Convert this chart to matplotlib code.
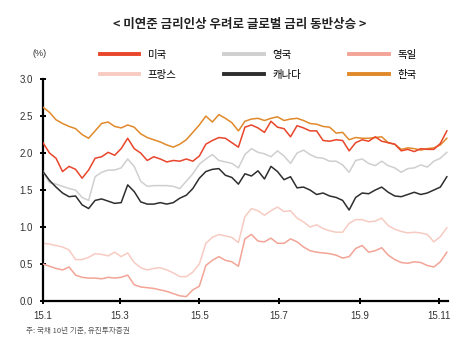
import matplotlib
matplotlib.use("Agg")
import matplotlib.pyplot as plt
import pandas as pd
from matplotlib.lines import Line2D

plt.rcParams['font.family'] = ['Noto Sans CJK KR', 'DejaVu Sans']

dates = pd.date_range('2015-01-01', periods=63, freq='5D')

korea = [2.62, 2.55, 2.45, 2.40, 2.36, 2.33, 2.25, 2.20, 2.30, 2.40, 2.42, 2.36, 2.34, 2.38, 2.35, 2.26,
         2.21, 2.18, 2.15, 2.11, 2.08, 2.12, 2.18, 2.28, 2.38, 2.50, 2.42, 2.52, 2.47, 2.41, 2.30, 2.43,
         2.46, 2.47, 2.44, 2.47, 2.49, 2.44, 2.46, 2.47, 2.44, 2.40, 2.39, 2.36, 2.35, 2.27, 2.28, 2.18,
         2.21, 2.20, 2.20, 2.21, 2.22, 2.14, 2.12, 2.05, 2.07, 2.06, 2.04, 2.06, 2.07, 2.11, 2.20]
usa = [2.14, 2.00, 1.93, 1.75, 1.82, 1.78, 1.66, 1.77, 1.93, 1.95, 2.01, 1.97, 2.06, 2.20, 2.06, 2.00,
       1.90, 1.95, 1.92, 1.88, 1.90, 1.89, 1.92, 1.89, 1.96, 2.12, 2.17, 2.21, 2.20, 2.14, 2.08, 2.35,
       2.38, 2.34, 2.28, 2.43, 2.35, 2.33, 2.22, 2.37, 2.34, 2.30, 2.30, 2.17, 2.16, 2.18, 2.17, 2.03,
       2.14, 2.18, 2.16, 2.22, 2.16, 2.14, 2.12, 2.03, 2.05, 2.02, 2.06, 2.05, 2.05, 2.13, 2.30]
uk = [1.75, 1.60, 1.58, 1.55, 1.52, 1.50, 1.40, 1.36, 1.68, 1.74, 1.77, 1.77, 1.80, 1.92, 1.82, 1.62,
      1.55, 1.56, 1.56, 1.56, 1.55, 1.52, 1.62, 1.72, 1.85, 1.92, 1.98, 1.90, 1.88, 1.86, 1.80, 1.98,
      2.06, 2.01, 1.99, 1.95, 2.03, 1.96, 1.86, 2.00, 2.04, 1.98, 1.94, 1.93, 1.89, 1.89, 1.84, 1.74,
      1.90, 1.92, 1.86, 1.83, 1.89, 1.83, 1.80, 1.74, 1.79, 1.80, 1.84, 1.81, 1.89, 1.93, 2.01]
canada = [1.75, 1.63, 1.54, 1.46, 1.41, 1.42, 1.30, 1.25, 1.36, 1.38, 1.35, 1.32, 1.33, 1.57, 1.48, 1.34,
          1.31, 1.31, 1.33, 1.31, 1.33, 1.39, 1.43, 1.52, 1.66, 1.75, 1.78, 1.79, 1.70, 1.67, 1.58, 1.72,
          1.69, 1.76, 1.65, 1.82, 1.75, 1.64, 1.68, 1.53, 1.54, 1.50, 1.44, 1.46, 1.42, 1.40, 1.36, 1.23,
          1.40, 1.46, 1.45, 1.50, 1.54, 1.47, 1.42, 1.41, 1.44, 1.47, 1.44, 1.46, 1.50, 1.54, 1.68]
france = [0.78, 0.77, 0.75, 0.73, 0.69, 0.56, 0.56, 0.59, 0.64, 0.63, 0.61, 0.66, 0.60, 0.65, 0.52, 0.45,
          0.42, 0.44, 0.45, 0.42, 0.38, 0.33, 0.33, 0.39, 0.50, 0.78, 0.86, 0.90, 0.88, 0.86, 0.79, 1.14,
          1.25, 1.22, 1.16, 1.22, 1.27, 1.21, 1.22, 1.12, 1.07, 1.00, 1.03, 0.98, 0.95, 0.93, 0.93, 1.05,
          1.10, 1.10, 1.07, 1.08, 1.12, 1.02, 0.97, 0.94, 0.92, 0.93, 0.92, 0.90, 0.80, 0.87, 0.99]
germany = [0.50, 0.47, 0.44, 0.42, 0.46, 0.35, 0.32, 0.31, 0.31, 0.30, 0.32, 0.31, 0.32, 0.35, 0.22, 0.19,
           0.18, 0.17, 0.15, 0.13, 0.10, 0.07, 0.06, 0.15, 0.20, 0.48, 0.55, 0.60, 0.55, 0.53, 0.47, 0.84,
           0.90, 0.81, 0.80, 0.85, 0.78, 0.78, 0.84, 0.80, 0.73, 0.68, 0.66, 0.65, 0.64, 0.62, 0.58, 0.60,
           0.71, 0.75, 0.66, 0.68, 0.72, 0.62, 0.56, 0.52, 0.51, 0.53, 0.52, 0.48, 0.46, 0.53, 0.66]

names = ['미국', '영국', '독일', '프랑스', '캐나다', '한국']
colors = ['#e8452a', '#cfcfcf', '#f2a496', '#f7cbc2', '#2e2e2e', '#e0892a']
series = [usa, uk, germany, france, canada, korea]

tick_dates = ['2015-01-01', '2015-03-01', '2015-05-01', '2015-07-01', '2015-09-01', '2015-11-01']
tick_labels = ['15.1', '15.3', '15.5', '15.7', '15.9', '15.11']
y_ticks = [0.0, 0.5, 1.0, 1.5, 2.0, 2.5, 3.0]

fig = plt.figure(figsize=(4.7, 3.5), dpi=100)
ax = fig.add_axes([0.0915, 0.14, 0.862, 0.634])

draw_order = [3, 2, 1, 5, 0, 4]
for z, i in enumerate(draw_order):
    ax.plot(dates, series[i], color=colors[i], lw=1.1, zorder=2 + z)

ax.set_ylim(0, 3.0)
ax.set_xlim(pd.Timestamp('2015-01-01'), pd.Timestamp('2015-11-08'))
ax.set_yticks(y_ticks)
ax.set_yticklabels([f'{v:.1f}' for v in y_ticks], family=['Liberation Sans', 'DejaVu Sans'],
                   fontsize=7, color='#333333')
ax.set_xticks(pd.to_datetime(tick_dates))
ax.set_xticklabels(tick_labels, family=['Liberation Sans', 'DejaVu Sans'], fontsize=7, color='#333333')
for s in ['top', 'right']:
    ax.spines[s].set_visible(False)
for s in ['left', 'bottom']:
    ax.spines[s].set_linewidth(1.6)
    ax.spines[s].set_color('black')
ax.tick_params(axis='both', direction='inout', length=5, width=1.4)
ax.tick_params(axis='y', pad=5)
ax.tick_params(axis='x', pad=5)

handles = [Line2D([0], [0], color=c, lw=2.8) for c in colors]
order = [0, 3, 1, 4, 2, 5]
fig.legend([handles[i] for i in order], [names[i] for i in order], ncol=3,
           loc='center', bbox_to_anchor=(0.549, 0.815), frameon=False, fontsize=7.5,
           handlelength=3.8, columnspacing=4.6, handletextpad=0.8, labelspacing=1.0)

fig.text(0.51, 0.93, '< 미연준 금리인상 우려로 글로벌 금리 동반상승 >', ha='center', va='center',
         fontsize=9, fontweight='bold', color='#222222')
fig.text(0.085, 0.848, '(%)', ha='center', va='center', fontsize=6.5, color='#333333',
         family=['Liberation Sans', 'DejaVu Sans'])
fig.text(0.055, 0.055, '주: 국채 10년 기준, 유진투자증권', ha='left', va='center', fontsize=5.5, color='#555555')

fig.savefig('out.png', dpi=100)
